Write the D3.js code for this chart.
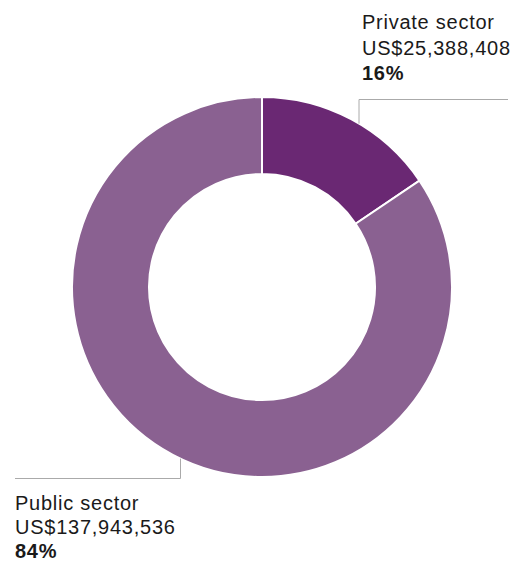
<!DOCTYPE html>
<meta charset="utf-8">
<style>
    body { margin: 0; background: #fff; }
    .lbl { font-family: "Liberation Sans", Arial, sans-serif; font-size: 20px; letter-spacing: 0.75px; fill: #1a1a1a; }
    .pct { font-weight: bold; }
    .leader { fill: none; stroke: #aaa; stroke-width: 1; }
</style>
<body>
<svg width="520" height="563"></svg>
</body>
<script src="https://cdn.jsdelivr.net/npm/d3@7"></script>
<script>

    var sectors = ["Private sector", "Public sector"];
    var amounts = [25388408, 137943536];
    var amountLabels = ["US$25,388,408", "US$137,943,536"];
    var pctLabels = ["16%", "84%"];
    var colors = ["#6a2873", "#8a6191"];

    var svg = d3.select("svg");
    var cx = 262, cy = 287, outerR = 190, innerR = 113;

    var pie = d3.pie().sort(null).value(function (d) { return d; });
    var arc = d3.arc().innerRadius(innerR).outerRadius(outerR);

    var g = svg.append("g").attr("transform", "translate(" + cx + "," + cy + ")");

    g.selectAll("path")
        .data(pie(amounts))
        .enter().append("path")
        .attr("d", arc)
        .attr("fill", function (d, i) { return colors[i]; })
        .attr("stroke", "#fff")
        .attr("stroke-width", 2);

    // leader lines (point on outer edge -> elbow -> end)
    function edgeY(x, sign) {
        var dx = x - cx;
        return cy + sign * Math.sqrt(outerR * outerR - dx * dx);
    }

    svg.append("path")
        .attr("class", "leader")
        .attr("d", "M359," + edgeY(359, -1) + "V99.5H508");

    svg.append("path")
        .attr("class", "leader")
        .attr("d", "M180.5," + edgeY(180.5, 1) + "V478.5H15");

    // labels
    var labelPos = [{x: 362, y: 29, lh: 25.5}, {x: 15, y: 510, lh: 24}];

    labelPos.forEach(function (p, i) {
        var t = svg.append("text").attr("class", "lbl").attr("x", p.x).attr("y", p.y);
        t.append("tspan").attr("x", p.x).attr("dy", 0).text(sectors[i]);
        t.append("tspan").attr("x", p.x).attr("dy", p.lh).text(amountLabels[i]);
        t.append("tspan").attr("x", p.x).attr("dy", p.lh).attr("class", "pct").text(pctLabels[i]);
    });

</script>
